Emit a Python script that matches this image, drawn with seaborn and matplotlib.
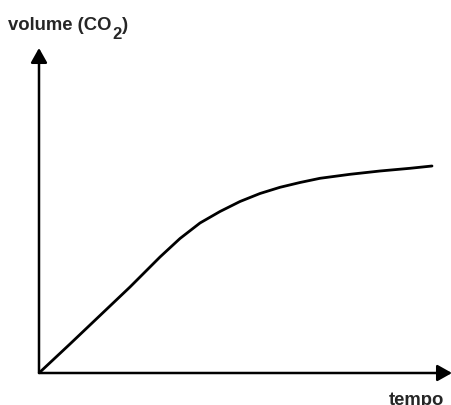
import matplotlib
matplotlib.use("Agg")
import matplotlib.pyplot as plt
import seaborn as sns
import pandas as pd

# Time vs. CO2 volume: quick linear rise, then levelling off
tempo = [0, 31, 61, 91, 111, 121, 141, 161, 181, 201, 221, 241,
         261, 281, 311, 341, 371, 393]
volume = [0, 29, 57.5, 86, 106, 116, 134.5, 150, 161.5, 171.5, 179.5, 185.7,
          190.5, 194.7, 198.7, 202, 204.7, 207]

x_label = "tempo"
y_label_parts = ["volume (CO", "2", ")"]

sns.set_style("white")
plt.rcParams["font.family"] = ["Liberation Sans", "DejaVu Sans"]

W, H = 452, 405
fig = plt.figure(figsize=(W / 100, H / 100), dpi=100)
x0, y0, x1, y1 = 39, 373, 452, 48
ax = fig.add_axes([x0 / W, (H - y0) / H, (x1 - x0) / W, (y0 - y1) / H])

df = pd.DataFrame({"tempo": tempo, "volume": volume})
sns.lineplot(data=df, x="tempo", y="volume", ax=ax, color="black", lw=2.0)

ax.set_xlim(0, x1 - x0)
ax.set_ylim(0, y0 - y1)
ax.set_xticks([])
ax.set_yticks([])
ax.set_xlabel("")
ax.set_ylabel("")
for s in ax.spines.values():
    s.set_visible(False)

# Axis lines with arrowheads
arrow = dict(arrowstyle="-|>,head_length=0.8,head_width=0.45", lw=1.8,
             color="black", mutation_scale=11, shrinkA=0, shrinkB=0)
ax.annotate("", xy=(0, 1), xytext=(0, 0), xycoords="axes fraction",
            arrowprops=arrow, annotation_clip=False)
ax.annotate("", xy=(1, 0), xytext=(0, 0), xycoords="axes fraction",
            arrowprops=arrow, annotation_clip=False)

# Y label with a lowered subscript 2
fs = 13.3
t1 = fig.text(8 / W, 1 - 30 / H, y_label_parts[0], ha="left",
              va="baseline", fontsize=fs, fontweight="bold")
ax.annotate(y_label_parts[1], xy=(1, 0), xycoords=t1,
            xytext=(0.5, -5.5), textcoords="offset points",
            ha="left", va="bottom", fontsize=fs * 0.9,
            fontweight="bold", annotation_clip=False)
ax.annotate(y_label_parts[2], xy=(1, 0), xycoords=t1,
            xytext=(fs * 0.9 * 0.556 + 0.8, 0), textcoords="offset points",
            ha="left", va="bottom", fontsize=fs, fontweight="bold",
            annotation_clip=False)

fig.text(389 / W, 1 - 392 / H, x_label, ha="left", va="top",
         fontsize=fs, fontweight="bold")

fig.savefig("out.png", dpi=100)
